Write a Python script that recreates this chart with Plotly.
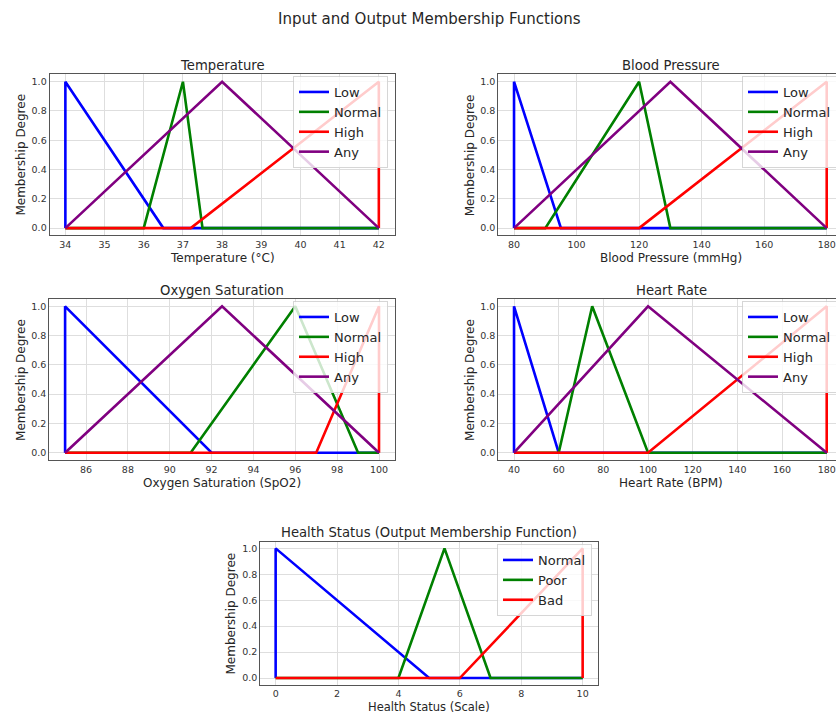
import plotly.graph_objects as go

W, H = 836, 714

# ---- Temperature (°C), universe 34..42 ----
temp_low_x = [34, 34, 36.5, 42]
temp_low_y = [0, 1, 0, 0]
temp_normal_x = [34, 36, 37, 37.5, 42]
temp_normal_y = [0, 0, 1, 0, 0]
temp_high_x = [34, 37.2, 42, 42]
temp_high_y = [0, 0, 1, 0]
temp_any_x = [34, 38, 42]
temp_any_y = [0, 1, 0]
temp_ticks = [34, 35, 36, 37, 38, 39, 40, 41, 42]

# ---- Blood Pressure (mmHg), universe 80..180 ----
bp_low_x = [80, 80, 95, 180]
bp_low_y = [0, 1, 0, 0]
bp_normal_x = [80, 90, 120, 130, 180]
bp_normal_y = [0, 0, 1, 0, 0]
bp_high_x = [80, 120, 180, 180]
bp_high_y = [0, 0, 1, 0]
bp_any_x = [80, 130, 180]
bp_any_y = [0, 1, 0]
bp_ticks = [80, 100, 120, 140, 160, 180]

# ---- Oxygen Saturation (SpO2), universe 85..100 ----
spo2_low_x = [85, 85, 92, 100]
spo2_low_y = [0, 1, 0, 0]
spo2_normal_x = [85, 91, 96, 99, 100]
spo2_normal_y = [0, 0, 1, 0, 0]
spo2_high_x = [85, 97, 100, 100]
spo2_high_y = [0, 0, 1, 0]
spo2_any_x = [85, 92.5, 100]
spo2_any_y = [0, 1, 0]
spo2_ticks = [86, 88, 90, 92, 94, 96, 98, 100]

# ---- Heart Rate (BPM), universe 40..180 ----
hr_low_x = [40, 40, 60, 180]
hr_low_y = [0, 1, 0, 0]
hr_normal_x = [40, 60, 75, 100, 180]
hr_normal_y = [0, 0, 1, 0, 0]
hr_high_x = [40, 100, 180, 180]
hr_high_y = [0, 0, 1, 0]
hr_any_x = [40, 100, 180]
hr_any_y = [0, 1, 0]
hr_ticks = [40, 60, 80, 100, 120, 140, 160, 180]

# ---- Health Status (output), universe 0..10 ----
hs_normal_x = [0, 0, 5, 10]
hs_normal_y = [0, 1, 0, 0]
hs_poor_x = [0, 4, 5.5, 7, 10]
hs_poor_y = [0, 0, 1, 0, 0]
hs_bad_x = [0, 6, 10, 10]
hs_bad_y = [0, 0, 1, 0]
hs_ticks = [0, 2, 4, 6, 8, 10]

y_ticks = [0, 0.2, 0.4, 0.6, 0.8, 1.0]

input_labels = ["Low", "Normal", "High", "Any"]
input_colors = ["blue", "green", "red", "purple"]
output_labels = ["Normal", "Poor", "Bad"]
output_colors = ["blue", "green", "red"]

FONT = "DejaVu Sans"
TXT = "#262626"
SPINE = "#555555"
GRID = "#dedede"


def px(x):
    return x / W


def py(y):
    return 1 - y / H


# panel geometry in pixels: (left, right, top, bottom), x range
panels = [
    dict(title="Temperature", xlabel="Temperature (°C)",
         curves=[(temp_low_x, temp_low_y), (temp_normal_x, temp_normal_y),
                 (temp_high_x, temp_high_y), (temp_any_x, temp_any_y)],
         labels=input_labels, colors=input_colors, ticks=temp_ticks,
         box=(49.7, 394.5, 74.4, 235.4), xr=[33.6, 42.4], right_open=False,
         legend_xy=(388, 76), xl_off=23, xl_size=12),
    dict(title="Blood Pressure", xlabel="Blood Pressure (mmHg)",
         curves=[(bp_low_x, bp_low_y), (bp_normal_x, bp_normal_y),
                 (bp_high_x, bp_high_y), (bp_any_x, bp_any_y)],
         labels=input_labels, colors=input_colors, ticks=bp_ticks,
         box=(498.4, 836, 74.4, 235.4), xr=[75, 182.97], right_open=True,
         legend_xy=(837, 76), xl_off=23, xl_size=12),
    dict(title="Oxygen Saturation", xlabel="Oxygen Saturation (SpO2)",
         curves=[(spo2_low_x, spo2_low_y), (spo2_normal_x, spo2_normal_y),
                 (spo2_high_x, spo2_high_y), (spo2_any_x, spo2_any_y)],
         labels=input_labels, colors=input_colors, ticks=spo2_ticks,
         box=(49.4, 394.7, 299, 460), xr=[84.25, 100.75], right_open=False,
         legend_xy=(388, 301), xl_off=23, xl_size=12),
    dict(title="Heart Rate", xlabel="Heart Rate (BPM)",
         curves=[(hr_low_x, hr_low_y), (hr_normal_x, hr_normal_y),
                 (hr_high_x, hr_high_y), (hr_any_x, hr_any_y)],
         labels=input_labels, colors=input_colors, ticks=hr_ticks,
         box=(498.4, 836, 299, 460), xr=[33, 184.16], right_open=True,
         legend_xy=(837, 301), xl_off=23, xl_size=12),
    dict(title="Health Status (Output Membership Function)",
         xlabel="Health Status (Scale)",
         curves=[(hs_normal_x, hs_normal_y), (hs_poor_x, hs_poor_y),
                 (hs_bad_x, hs_bad_y)],
         labels=output_labels, colors=output_colors, ticks=hs_ticks,
         box=(260.3, 598, 541.9, 684.5), xr=[-0.5, 10.5], right_open=False,
         legend_xy=(592, 544), xl_off=22, xl_size=11.5),
]

fig = go.Figure()
annotations = []

for i, p in enumerate(panels, start=1):
    sfx = "" if i == 1 else str(i)
    lg = "legend" if i == 1 else f"legend{i}"
    for (xs, ys), name, col in zip(p["curves"], p["labels"], p["colors"]):
        fig.add_trace(go.Scatter(
            x=xs, y=ys, mode="lines", name=name,
            line=dict(color=col, width=2.6),
            xaxis=f"x{sfx}", yaxis=f"y{sfx}", legend=lg,
        ))
    l, r, t, b = p["box"]
    fig.layout[f"xaxis{sfx}"] = dict(
        domain=[px(l), px(r)], range=p["xr"], anchor=f"y{sfx}",
        tickvals=p["ticks"], showgrid=True, gridcolor=GRID, gridwidth=1,
        zeroline=False, showline=True, linecolor=SPINE, linewidth=1.2,
        mirror=True, ticks="", tickfont=dict(family=FONT, size=9.5, color="#333333"),
    )
    fig.layout[f"yaxis{sfx}"] = dict(
        domain=[py(b), py(t)], range=[-0.05, 1.05], anchor=f"x{sfx}",
        tickvals=y_ticks, tickformat=".1f", showgrid=True, gridcolor=GRID,
        gridwidth=1, zeroline=False, showline=True, linecolor=SPINE,
        linewidth=1.2, mirror=not p["right_open"], ticks="",
        tickfont=dict(family=FONT, size=9.5, color="#333333"),
    )
    lx, ly = p["legend_xy"]
    fig.layout[lg] = dict(
        x=px(lx), y=py(ly), xanchor="right", yanchor="top",
        bgcolor="rgba(255,255,255,0.8)", bordercolor="rgba(204,204,204,0.8)",
        borderwidth=1, font=dict(family=FONT, size=13, color=TXT),
        itemwidth=30, tracegroupgap=0,
    )
    cx = (l + (l + 346 if p["right_open"] else r)) / 2
    # panel title
    annotations.append(dict(
        text=p["title"], x=px(cx), y=py(t - 9), xref="paper", yref="paper",
        xanchor="center", yanchor="middle", showarrow=False,
        font=dict(family=FONT, size=13.2, color=TXT),
    ))
    # x axis label
    annotations.append(dict(
        text=p["xlabel"], x=px(cx), y=py(b + p["xl_off"]), xref="paper", yref="paper",
        xanchor="center", yanchor="middle", showarrow=False,
        font=dict(family=FONT, size=p["xl_size"], color=TXT),
    ))
    # y axis label
    annotations.append(dict(
        text="Membership Degree", x=px(l - 29), y=py((t + b) / 2),
        xref="paper", yref="paper", xanchor="center", yanchor="middle",
        textangle=-90, showarrow=False,
        font=dict(family=FONT, size=12, color=TXT),
    ))

annotations.append(dict(
    text="Input and Output Membership Functions", x=px(429), y=py(19),
    xref="paper", yref="paper", xanchor="center", yanchor="middle",
    showarrow=False, font=dict(family=FONT, size=15, color=TXT),
))

fig.update_layout(
    width=W, height=H,
    margin=dict(l=0, r=0, t=0, b=0, autoexpand=False),
    paper_bgcolor="white", plot_bgcolor="white",
    font=dict(family=FONT, color=TXT),
    annotations=annotations,
    showlegend=True,
)

fig.write_html("out.html")
